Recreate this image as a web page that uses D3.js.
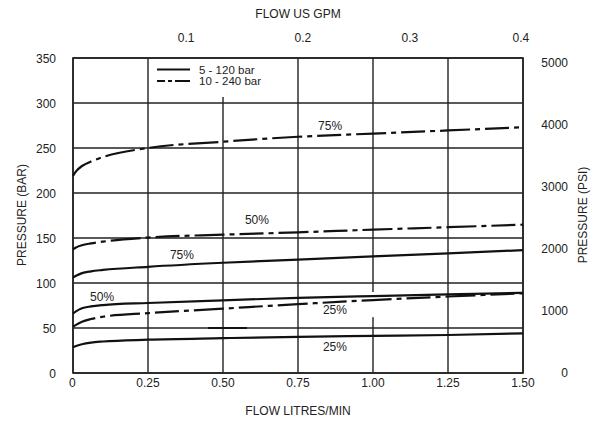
<!DOCTYPE html>
<html><head><meta charset="utf-8">
<script src="https://cdn.jsdelivr.net/npm/d3@7"></script>
<style>body{margin:0;background:#fff}svg{display:block}text{font-family:"Liberation Sans",Arial,sans-serif;fill:#222}</style>
</head><body><svg id="c" width="601" height="429"></svg>
<script>
const flowTicks = [0, 0.25, 0.5, 0.75, 1.0, 1.25, 1.5];
const flowTickLabels = ["0", "0.25", "0.50", "0.75", "1.00", "1.25", "1.50"];
const barTicks = [0, 50, 100, 150, 200, 250, 300, 350];
const psiTicks = [0, 1000, 2000, 3000, 4000, 5000];
const gpmTickLabels = ["0.1", "0.2", "0.3", "0.4"];
const gpmTickFlow = [0.377, 0.766, 1.123, 1.493];
const flowX = [0, 0.01, 0.03, 0.06, 0.1, 0.25, 0.5, 0.75, 1.0, 1.25, 1.5];
const hi75 = [219, 224, 230, 235, 240, 250, 257, 262.5, 266, 269.5, 273];
const hi50 = [137.5, 139.5, 142, 144, 146, 150.5, 153.7, 156.3, 159.3, 162, 164.8];
const lo75 = [106, 108, 111, 113, 114.5, 118, 122.5, 126, 129.5, 133, 136.5];
const lo50 = [66, 68.5, 72, 74, 75.5, 77.8, 80.8, 83.5, 85.5, 87.3, 89];
const hi25 = [51.5, 53.5, 57, 60, 62.5, 66.5, 71.5, 76.5, 81, 85, 88.5];
const lo25 = [28.5, 30, 32, 33.8, 35, 37, 38.7, 40.2, 41.2, 42.2, 44];
const seriesNames = ["5 - 120 bar", "10 - 240 bar"];
const curves = [
  {vals: hi75, s: 1, label: "75%", lx: 0.857, ly: 274.5},
  {vals: hi50, s: 1, label: "50%", lx: 0.613, ly: 170},
  {vals: lo75, s: 0, label: "75%", lx: 0.363, ly: 131},
  {vals: lo50, s: 0, label: "50%", lx: 0.097, ly: 84.5},
  {vals: hi25, s: 1, label: "25%", lx: 0.873, ly: 70},
  {vals: lo25, s: 0, label: "25%", lx: 0.873, ly: 29}
];

const svg = d3.select("#c");
const L = 73, R = 523, T = 58, B = 373;
const x = d3.scaleLinear().domain([0, 1.5]).range([L, R]);
const y = d3.scaleLinear().domain([0, 350]).range([B, T]);
const yPsi = d3.scaleLinear().domain([0, 350 * 14.5038]).range([B, T]);

const g = svg.append("g");
g.selectAll(".vg").data(flowTicks).enter().append("line")
  .attr("x1", d => x(d)).attr("x2", d => x(d)).attr("y1", T).attr("y2", B)
  .attr("stroke", "#222").attr("stroke-width", 1.4);
g.selectAll(".hg").data(barTicks).enter().append("line")
  .attr("x1", L).attr("x2", R).attr("y1", d => y(d)).attr("y2", d => y(d))
  .attr("stroke", "#222").attr("stroke-width", 1.4);
g.append("rect").attr("x", L).attr("y", T).attr("width", R - L).attr("height", B - T)
  .attr("fill", "none").attr("stroke", "#222").attr("stroke-width", 1.6);

const lg = svg.append("g");
lg.append("rect").attr("x", x(0.26)).attr("y", T + 1).attr("width", 140).attr("height", 38).attr("fill", "#fff");
seriesNames.forEach((n, i) => {
  const yy = 69.5 + i * 11.5;
  lg.append("line").attr("x1", 157).attr("x2", 190).attr("y1", yy).attr("y2", yy)
    .attr("stroke", "#111").attr("stroke-width", 2.2)
    .attr("stroke-dasharray", i ? "8,3,4,3,20" : null);
  lg.append("text").attr("x", 199).attr("y", yy).attr("dy", "0.35em")
    .attr("font-size", 11.5).text(n);
});

svg.append("rect").attr("x", x(1.0) - 4).attr("y", y(90)).attr("width", 8).attr("height", y(62) - y(90)).attr("fill", "#fff");

svg.append("line").attr("x1", x(0.45)).attr("x2", x(0.58)).attr("y1", y(50)).attr("y2", y(50))
  .attr("stroke", "#111").attr("stroke-width", 2.2);

const line = d3.line().x((d, i) => x(flowX[i])).y(d => y(d)).curve(d3.curveMonotoneX);
curves.forEach(c => {
  svg.append("path").attr("d", line(c.vals)).attr("fill", "none")
    .attr("stroke", "#111").attr("stroke-width", 2.2)
    .attr("stroke-dasharray", c.s ? "24,5,5,5,30,5,5,5" : null);
  svg.append("text").attr("x", x(c.lx)).attr("y", y(c.ly)).attr("dy", "0.35em")
    .attr("text-anchor", "middle").attr("font-size", 12).text(c.label);
});

svg.selectAll(".bx").data(flowTicks).enter().append("text")
  .attr("x", d => x(d)).attr("y", 383).attr("dy", "0.35em")
  .attr("text-anchor", (d, i) => i === 0 ? "start" : "middle")
  .attr("dx", (d, i) => i === 0 ? -4 : 0)
  .attr("font-size", 12).text((d, i) => flowTickLabels[i]);
svg.selectAll(".ly").data(barTicks).enter().append("text")
  .attr("x", 56).attr("y", d => y(d) + 1).attr("dy", "0.35em")
  .attr("text-anchor", "end").attr("font-size", 12).text(d => d);
svg.selectAll(".ry").data(psiTicks).enter().append("text")
  .attr("x", 568).attr("y", d => yPsi(d)).attr("dy", "0.35em")
  .attr("text-anchor", "end").attr("font-size", 12).text(d => d);
svg.selectAll(".tx").data(gpmTickFlow).enter().append("text")
  .attr("x", d => x(d)).attr("y", 38).attr("dy", "0.35em")
  .attr("text-anchor", "middle").attr("font-size", 12).text((d, i) => gpmTickLabels[i]);

svg.append("text").attr("x", 298).attr("y", 14).attr("dy", "0.35em").attr("text-anchor", "middle").attr("font-size", 12).text("FLOW US GPM");
svg.append("text").attr("x", 298).attr("y", 411).attr("dy", "0.35em").attr("text-anchor", "middle").attr("font-size", 12).text("FLOW LITRES/MIN");
svg.append("text").attr("transform", "translate(22,215) rotate(-90)").attr("dy", "0.35em").attr("text-anchor", "middle").attr("font-size", 12).text("PRESSURE (BAR)");
svg.append("text").attr("transform", "translate(583,215) rotate(-90)").attr("dy", "0.35em").attr("text-anchor", "middle").attr("font-size", 12).text("PRESSURE (PSI)");
</script></body></html>
